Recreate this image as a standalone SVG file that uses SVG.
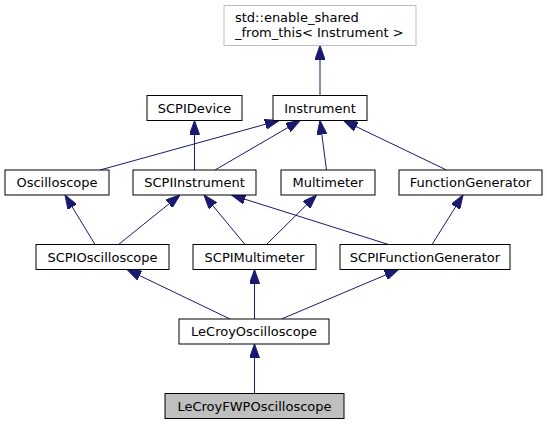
<svg xmlns="http://www.w3.org/2000/svg" width="547" height="425" viewBox="0 0 547 425">
<style>
  .box { fill: #ffffff; stroke: #000000; stroke-width: 1; }
  .ext { fill: #ffffff; stroke: #bfbfbf; stroke-width: 1; }
  .cur { fill: #bfbfbf; stroke: #000000; stroke-width: 1; }
  .lbl { font-family: "DejaVu Sans", "Liberation Sans", sans-serif; font-size: 13px; fill: #000000; text-anchor: middle; }
  .lbl2 { font-family: "DejaVu Sans", "Liberation Sans", sans-serif; font-size: 13px; fill: #000000; text-anchor: start; }
  .edge { stroke: #191970; stroke-width: 1; fill: none; marker-end: url(#arr); }
</style>
<defs>
  <marker id="arr" markerUnits="userSpaceOnUse" markerWidth="14" markerHeight="10" refX="14" refY="5" orient="auto" viewBox="0 0 14 10">
    <path d="M0,0 L14,5 L0,10 Z" fill="#191970" stroke="#191970" stroke-width="1"/>
  </marker>
</defs>
<rect width="547" height="425" fill="#ffffff"/>
<g id="edges">
  <line class="edge" x1="320" y1="95.5" x2="320" y2="45.5"/>
  <line class="edge" x1="194.5" y1="170" x2="194.5" y2="120.5"/>
  <line class="edge" x1="100" y1="170" x2="279" y2="120.5"/>
  <line class="edge" x1="215" y1="170" x2="300" y2="120.5"/>
  <line class="edge" x1="326.5" y1="170" x2="320" y2="120.5"/>
  <line class="edge" x1="446.5" y1="170" x2="343.5" y2="120.5"/>
  <line class="edge" x1="95" y1="244.5" x2="65" y2="195"/>
  <line class="edge" x1="118.5" y1="244.5" x2="180" y2="195"/>
  <line class="edge" x1="245" y1="244.5" x2="204" y2="195"/>
  <line class="edge" x1="388.5" y1="244.5" x2="231.5" y2="195"/>
  <line class="edge" x1="266.5" y1="244.5" x2="316.5" y2="195"/>
  <line class="edge" x1="432" y1="244.5" x2="463" y2="195"/>
  <line class="edge" x1="230" y1="319" x2="127" y2="269.5"/>
  <line class="edge" x1="254.5" y1="319" x2="254.5" y2="269.5"/>
  <line class="edge" x1="281.5" y1="319" x2="398.5" y2="269.5"/>
  <line class="edge" x1="254.5" y1="393.5" x2="254.5" y2="344"/>
</g>
<g id="node_std">
  <rect class="ext" x="224" y="5.5" width="192" height="40"/>
  <text class="lbl2" x="235" y="21.7">std::enable_shared</text>
  <text class="lbl2" x="235" y="36.7">_from_this&lt; Instrument &gt;</text>
</g>
<g id="node_SCPIDevice">
  <rect class="box" x="147" y="95.5" width="95" height="25"/>
  <text class="lbl" x="194.5" y="112.5">SCPIDevice</text>
</g>
<g id="node_Instrument">
  <rect class="box" x="273" y="95.5" width="94" height="25"/>
  <text class="lbl" x="320" y="112.5">Instrument</text>
</g>
<g id="node_Oscilloscope">
  <rect class="box" x="5" y="170" width="104" height="25"/>
  <text class="lbl" x="57" y="187">Oscilloscope</text>
</g>
<g id="node_SCPIInstrument">
  <rect class="box" x="133" y="170" width="123" height="25"/>
  <text class="lbl" x="194.5" y="187">SCPIInstrument</text>
</g>
<g id="node_Multimeter">
  <rect class="box" x="281" y="170" width="94" height="25"/>
  <text class="lbl" x="328" y="187">Multimeter</text>
</g>
<g id="node_FunctionGenerator">
  <rect class="box" x="399" y="170" width="143" height="25"/>
  <text class="lbl" x="470.5" y="187">FunctionGenerator</text>
</g>
<g id="node_SCPIOscilloscope">
  <rect class="box" x="36" y="244.5" width="133" height="25"/>
  <text class="lbl" x="102.5" y="261.5">SCPIOscilloscope</text>
</g>
<g id="node_SCPIMultimeter">
  <rect class="box" x="193" y="244.5" width="123" height="25"/>
  <text class="lbl" x="254.5" y="261.5">SCPIMultimeter</text>
</g>
<g id="node_SCPIFunctionGenerator">
  <rect class="box" x="340" y="244.5" width="170" height="25"/>
  <text class="lbl" x="425" y="261.5">SCPIFunctionGenerator</text>
</g>
<g id="node_LeCroyOscilloscope">
  <rect class="box" x="179" y="319" width="150" height="25"/>
  <text class="lbl" x="254" y="336">LeCroyOscilloscope</text>
</g>
<g id="node_LeCroyFWPOscilloscope">
  <rect class="cur" x="165" y="393.5" width="179" height="25"/>
  <text class="lbl" x="254.5" y="410.5">LeCroyFWPOscilloscope</text>
</g>
</svg>
